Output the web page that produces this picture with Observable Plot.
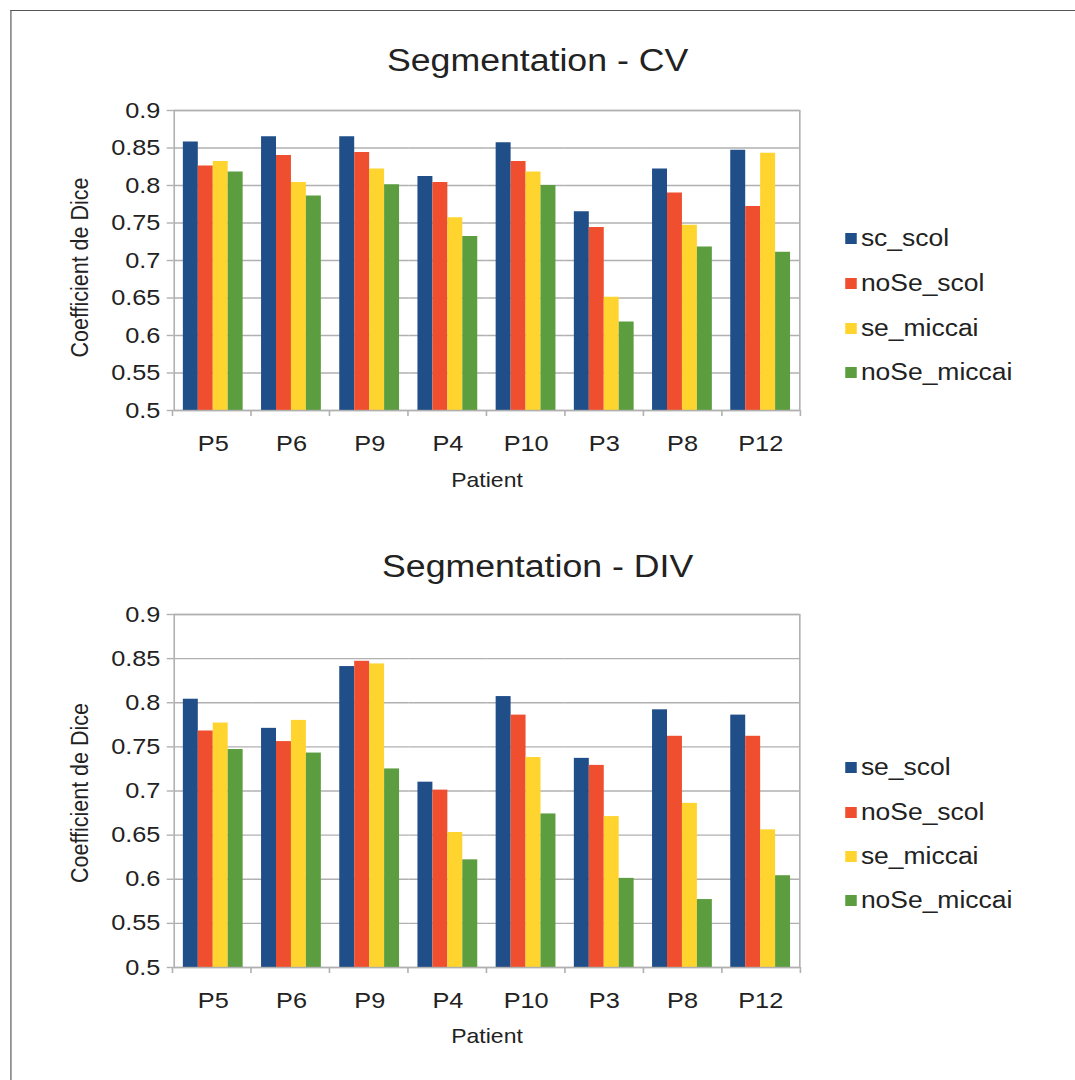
<!DOCTYPE html>
<html><head><meta charset="utf-8">
<script src="https://cdn.jsdelivr.net/npm/d3@7"></script>
<script src="https://cdn.jsdelivr.net/npm/@observablehq/plot@0.6"></script>
<style>
html,body{margin:0;padding:0;background:#fff;}
#page{position:relative;width:935px;height:1080px;transform:scaleX(1.15);transform-origin:0 0;font-family:"Liberation Sans",Arial,sans-serif;color:#222;}
.title{position:absolute;left:0;width:935px;text-align:center;font-size:31px;line-height:1;}
.frameBorder{position:absolute;left:8.7px;top:10px;width:940px;height:1080px;border-left:1px solid #555;border-top:1px solid #555;}
.legendRow{position:absolute;left:735px;height:28px;display:flex;align-items:center;font-size:23px;white-space:nowrap;}
.swatch{display:inline-block;width:9.6px;height:11px;margin-right:4px;}
</style></head><body>
<div id="page"><div class="frameBorder"></div></div>
<script>
const patients = ["P5", "P6", "P9", "P4", "P10", "P3", "P8", "P12"];
const seriesCV = ["sc_scol", "noSe_scol", "se_miccai", "noSe_miccai"];
const seriesDIV = ["se_scol", "noSe_scol", "se_miccai", "noSe_miccai"];
const yTicks = [0.5, 0.55, 0.6, 0.65, 0.7, 0.75, 0.8, 0.85, 0.9];
const colors = ["#1f4e89", "#f04f2f", "#ffd42f", "#5c9e3f"];

// Segmentation - CV
const cvSeScol     = [0.858, 0.865, 0.865, 0.812, 0.857, 0.765, 0.822, 0.847];
const cvNoSeScol   = [0.826, 0.840, 0.844, 0.804, 0.832, 0.744, 0.790, 0.772];
const cvSeMiccai   = [0.832, 0.804, 0.822, 0.757, 0.818, 0.651, 0.747, 0.843];
const cvNoSeMiccai = [0.818, 0.786, 0.801, 0.732, 0.800, 0.618, 0.718, 0.711];

// Segmentation - DIV
const divSeScol     = [0.804, 0.771, 0.841, 0.710, 0.807, 0.737, 0.792, 0.786];
const divNoSeScol   = [0.768, 0.756, 0.847, 0.701, 0.786, 0.729, 0.762, 0.762];
const divSeMiccai   = [0.777, 0.780, 0.844, 0.653, 0.738, 0.671, 0.686, 0.656];
const divNoSeMiccai = [0.747, 0.743, 0.725, 0.622, 0.674, 0.601, 0.577, 0.604];

const W = 935, PL = 150, PR = 696;
const FONT = '"Liberation Sans", Arial, sans-serif';
const GRID = "#b0b0b0";
const page = document.getElementById("page");

function draw(cfg) {
  const data = [];
  patients.forEach((p, i) => cfg.series.forEach((s, j) => data.push({patient: p, series: s, value: cfg.values[j][i]})));
  const svg = Plot.plot({
    width: W, height: cfg.height,
    marginLeft: PL, marginRight: W - PR, marginTop: cfg.marginTop, marginBottom: cfg.marginBottom,
    style: {fontFamily: FONT, fontSize: "22px", color: "#222", background: "transparent", overflow: "visible"},
    fx: {domain: patients, paddingInner: 0, paddingOuter: 0, label: null},
    x: {domain: cfg.series, paddingInner: 0, paddingOuter: 0.574, axis: null},
    y: {domain: [0.5, 0.9], label: null},
    color: {domain: cfg.series, range: colors},
    marks: [
      Plot.ruleY(yTicks, {stroke: GRID, strokeWidth: 1.4}),
      Plot.barY(data, {fx: "patient", x: "series", y1: 0.5, y2: "value", fill: "series"}),
      Plot.frame({stroke: GRID, strokeWidth: 1.4, facet: "super"}),
      Plot.axisY(yTicks, {tickSize: 6, tickPadding: 6, stroke: GRID, strokeWidth: 1.4, tickFormat: d => String(d), fontSize: 22, label: null}),
      Plot.axisFx({anchor: "bottom", tickSize: 0, tickPadding: 25, fontSize: 22, label: null}),
      Plot.text(["Patient"], {frameAnchor: "bottom", dy: cfg.patientDy, fontSize: 20, facet: "super"}),
      Plot.text(["Coefficient de Dice"], {frameAnchor: "left", textAnchor: "middle", rotate: -90, dx: -82, dy: cfg.labelDy, fontSize: 21.5, facet: "super"})
    ]
  });
  // category boundary ticks under the axis
  try {
    const fx = svg.scale("fx");
    const r0 = fx.range[0], r1 = fx.range[1], n = fx.domain.length;
    const yb = cfg.height - cfg.marginBottom;
    const g = d3.select(svg).append("g").attr("stroke", GRID).attr("stroke-width", 1.4);
    for (let i = 0; i <= n; i++) {
      const x = r0 + (r1 - r0) * i / n;
      g.append("line").attr("x1", x).attr("x2", x).attr("y1", yb).attr("y2", yb + 6);
    }
  } catch (e) {}
  svg.style.position = "absolute";
  svg.style.left = "0px";
  svg.style.top = cfg.top + "px";
  page.appendChild(svg);

  const t = document.createElement("div");
  t.className = "title";
  t.style.top = cfg.titleTop + "px";
  t.textContent = cfg.title;
  page.appendChild(t);

  cfg.series.forEach((s, j) => {
    const row = document.createElement("div");
    row.className = "legendRow";
    row.style.top = (cfg.legendCenters[j] - 14) + "px";
    const sw = document.createElement("span");
    sw.className = "swatch";
    sw.style.background = colors[j];
    const lab = document.createElement("span");
    lab.textContent = s;
    row.appendChild(sw); row.appendChild(lab);
    page.appendChild(row);
  });
}

draw({
  title: "Segmentation - CV", series: seriesCV,
  values: [cvSeScol, cvNoSeScol, cvSeMiccai, cvNoSeMiccai],
  top: 0, height: 500, marginTop: 110, marginBottom: 90, titleTop: 45,
  patientDy: 76, labelDy: 7,
  legendCenters: [238, 283, 328, 372]
});
draw({
  title: "Segmentation - DIV", series: seriesDIV,
  values: [divSeScol, divNoSeScol, divSeMiccai, divNoSeMiccai],
  top: 500, height: 560, marginTop: 114, marginBottom: 93, titleTop: 551,
  patientDy: 75, labelDy: 2,
  legendCenters: [767, 812, 856, 900]
});
</script>
</body></html>
